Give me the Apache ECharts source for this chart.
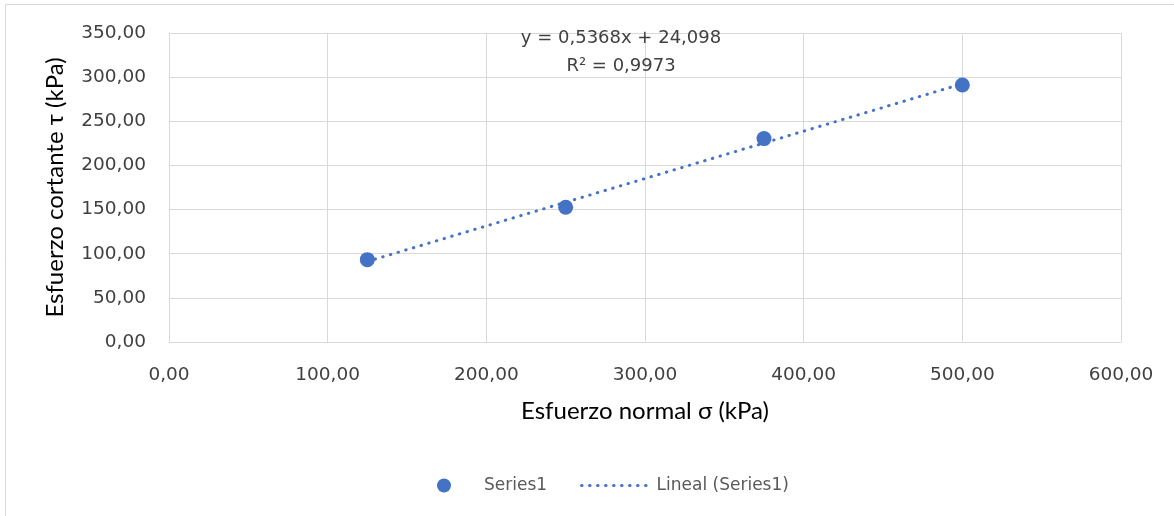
<!DOCTYPE html>
<html>
<head>
<meta charset="utf-8">
<script src="https://cdn.jsdelivr.net/npm/echarts@6/dist/echarts.min.js"></script>
<style>
  html, body { margin: 0; padding: 0; background: #fff; }
  #chart { width: 1174px; height: 516px; }
</style>
</head>
<body>
<div id="chart"></div>
<script>
// Direct shear test: normal stress vs shear stress (kPa)
const normalStress = [125, 250, 375, 500];
const shearStress = [93.3, 152.7, 230.4, 291.1];

// Linear fit reported for the data
const trendSlope = 0.5368;
const trendIntercept = 24.098;
const trendLabel = 'y = 0,5368x + 24,098';
const r2Label = 'R² = 0,9973';

const xTicks = { min: 0, max: 600, interval: 100 };
const yTicks = { min: 0, max: 350, interval: 50 };

const blue = '#4472C4';
const gridGray = '#d9d9d9';
const textGray = '#404040';
const tickFont = 'DejaVu Sans';
const titleFont = 'Lato';
const dotted = { color: blue, width: 3, type: [0.5, 7.5], cap: 'round' };

const fmt = v => v.toFixed(2).replace('.', ',');

const points = normalStress.map((x, i) => [x, shearStress[i]]);
const xFirst = normalStress[0];
const xLast = normalStress[normalStress.length - 1];
const trend = [
  [xFirst, trendSlope * xFirst + trendIntercept],
  [xLast, trendSlope * xLast + trendIntercept]
];

const chart = echarts.init(document.getElementById('chart'), null, { renderer: 'canvas' });

chart.setOption({
  backgroundColor: '#fff',
  animation: false,
  grid: { left: 169, right: 53, top: 33, bottom: 174, containLabel: false },
  xAxis: {
    type: 'value',
    min: xTicks.min, max: xTicks.max, interval: xTicks.interval,
    name: 'Esfuerzo normal σ (kPa)',
    nameLocation: 'middle',
    nameGap: 57,
    nameTextStyle: { fontFamily: titleFont, fontSize: 24, color: '#000' },
    axisLine: { show: true, lineStyle: { color: gridGray, width: 1 } },
    axisTick: { show: false },
    axisLabel: { formatter: fmt, margin: 24, fontFamily: tickFont, fontSize: 18.5, color: textGray },
    splitLine: { show: true, lineStyle: { color: gridGray, width: 1 } }
  },
  yAxis: {
    type: 'value',
    min: yTicks.min, max: yTicks.max, interval: yTicks.interval,
    name: 'Esfuerzo cortante τ (kPa)',
    nameLocation: 'middle',
    nameGap: 102,
    nameRotate: 90,
    nameTextStyle: { fontFamily: titleFont, fontSize: 24, color: '#000' },
    axisLine: { show: false },
    axisTick: { show: false },
    axisLabel: { formatter: fmt, margin: 23, fontFamily: tickFont, fontSize: 18.5, color: textGray },
    splitLine: { show: true, lineStyle: { color: gridGray, width: 1 } }
  },
  legend: {
    left: 432,
    top: 472,
    itemWidth: 70,
    itemHeight: 14,
    itemGap: 33,
    textStyle: { fontFamily: tickFont, fontSize: 17, color: '#595959' },
    data: [
      { name: 'Series1', icon: 'circle', itemStyle: { color: blue, opacity: 1 } },
      { name: 'Lineal (Series1)', itemStyle: { opacity: 0 }, lineStyle: dotted }
    ]
  },
  series: [
    {
      name: 'Lineal (Series1)',
      type: 'line',
      data: trend,
      symbol: 'none',
      z: 2,
      lineStyle: dotted,
      itemStyle: { color: blue }
    },
    {
      name: 'Series1',
      type: 'scatter',
      data: points,
      symbol: 'circle',
      symbolSize: 15,
      z: 3,
      itemStyle: { color: blue, opacity: 1 }
    }
  ],
  graphic: [
    {
      type: 'rect',
      shape: { x: 5.5, y: 4.5, width: 1300, height: 700 },
      style: { fill: 'none', stroke: gridGray, lineWidth: 1 },
      z: -1, silent: true
    },
    {
      type: 'text',
      x: 621, y: 38,
      style: { text: trendLabel, align: 'center', verticalAlign: 'middle',
               font: '18px "' + tickFont + '"', fill: textGray },
      z: 10
    },
    {
      type: 'text',
      x: 621, y: 66,
      style: { text: r2Label, align: 'center', verticalAlign: 'middle',
               font: '18px "' + tickFont + '"', fill: textGray },
      z: 10
    }
  ]
});
</script>
</body>
</html>
